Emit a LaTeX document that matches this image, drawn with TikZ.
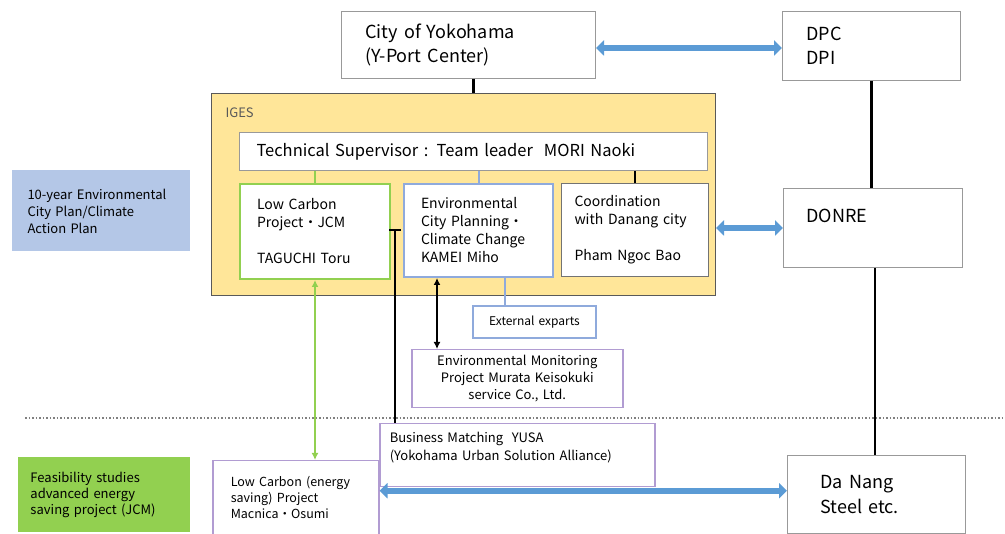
\documentclass[tikz,border=0pt]{standalone}
\usepackage{fontspec}
\setmainfont{Noto Sans CJK JP}
\usetikzlibrary{arrows.meta}
\definecolor{igesyellow}{RGB}{255,230,153}
\definecolor{planblue}{RGB}{180,199,231}
\definecolor{jcmgreen}{RGB}{146,208,80}
\definecolor{linkblue}{RGB}{91,155,213}
\definecolor{envblue}{RGB}{143,170,220}
\definecolor{bizpurple}{RGB}{177,156,210}
\begin{document}
\begin{tikzpicture}[x=1pt,y=-1pt,
	box/.style={draw=gray!80,line width=1pt,anchor=north west,align=left,inner ysep=0pt},
	fsize/.style 2 args={font=\fontsize{#1}{#2}\selectfont},
	link/.style={line width=6pt,draw=linkblue,{Triangle[length=8pt,width=15pt]}-{Triangle[length=8pt,width=15pt]}}]
	\useasboundingbox (0,0) rectangle (1005,534);
	\node [box,fsize={18}{24},inner xsep=24pt,text width=206pt,minimum height=67pt] (1) at (341,11) {City of Yokohama\\(Y-Port Center)};
	\node [box,fsize={18}{24},inner xsep=24pt,text width=130pt,minimum height=69pt] (2) at (782,11) {DPC\\DPI};
	\node [box,draw=gray!70!black,fill=igesyellow,minimum width=504pt,minimum height=202pt,inner sep=0pt] (3) at (211,93) {};
	\node [anchor=west,fsize={13}{16},text=gray!70!black] (4) at (222,113) {IGES};
	\node [box,fill=white,fsize={16.5}{20},inner xsep=17pt,text width=434pt,minimum height=38pt] (5) at (239,132) {Technical Supervisor : Team leader\ \ MORI Naoki};
	\node [box,fill=white,draw=jcmgreen,line width=2pt,fsize={14}{18},inner xsep=17pt,text width=116pt,minimum height=95pt] (6) at (239,183) {Low Carbon\\Project・JCM\\~\\TAGUCHI Toru};
	\node [box,fill=white,draw=envblue,line width=2pt,fsize={14}{18},inner xsep=17pt,text width=115pt,minimum height=93pt] (7) at (403,183) {Environmental\\City Planning・\\Climate Change\\KAMEI Miho};
	\node [box,fill=white,draw=gray!90!black,fsize={14}{18},inner xsep=13pt,text width=121pt,minimum height=93pt] (8) at (561,183) {Coordination\\with Danang city\\~\\Pham Ngoc Bao};
	\node [box,fsize={18}{24},inner xsep=23pt,text width=133pt,minimum height=79pt] (9) at (783,188) {DONRE\\~};
	\node [box,draw=envblue,line width=2pt,align=center,fsize={12}{15},text width=105pt,inner xsep=9pt,minimum height=32pt] (10) at (472,305) {External exparts};
	\node [box,draw=bizpurple,line width=1.5pt,align=center,fsize={13}{17},text width=195pt,inner xsep=8pt,minimum height=58pt] (11) at (411,349) {Environmental Monitoring\\Project Murata Keisokuki\\service Co., Ltd.};
	\node [box,draw=bizpurple,line width=1.5pt,fsize={13}{18},inner xsep=10pt,text width=255pt,minimum height=63pt] (12) at (379,423) {Business Matching\ \ YUSA\\(Yokohama Urban Solution Alliance)\\~};
	\node [box,draw=bizpurple,line width=1.5pt,fsize={12.5}{16},inner xsep=18pt,text width=130pt,minimum height=74pt] (13) at (212,460) {Low Carbon (energy\\saving) Project\\Macnica・Osumi};
	\node [box,fsize={18}{25},inner xsep=33pt,text width=112pt,minimum height=78pt] (14) at (787,455) {Da Nang\\Steel etc.};
	\node [box,draw=none,fill=planblue,fsize={13}{17},inner xsep=16pt,text width=146pt,minimum height=81pt] (15) at (11,170) {10-year Environmental\\City Plan/Climate\\Action Plan};
	\node [box,draw=none,fill=jcmgreen,fsize={13}{16},inner xsep=13pt,text width=146pt,minimum height=75pt] (16) at (17,457) {Feasibility studies\\advanced energy\\saving project (JCM)};
	\coordinate (t) at (395,229);
	\draw [gray,dotted,line width=1.5pt] (25,418) -- (1005,418);
	\draw [line width=2.5pt] ([xshift=5pt]1.south) -- ([xshift=5pt]1.south |- 3.north);
	\draw [link] ([yshift=-3pt]1.east) -- ([yshift=-3pt]1.east -| 2.west);
	\draw [line width=2.5pt] (2.south) -- (2.south |- 9.north);
	\draw [line width=2.5pt] ([xshift=2pt]9.south) -- ([xshift=2pt]9.south |- 14.north);
	\draw [link] (3.east |- 9.west) -- (9.west);
	\draw [jcmgreen,line width=2pt] (6.north) -- (6.north |- 5.south);
	\draw [envblue,line width=2pt] (7.north) -- (7.north |- 5.south);
	\draw [line width=2.5pt] (8.north) -- (8.north |- 5.south);
	\draw [envblue,line width=2pt] ([xshift=-30pt]10.north) -- ([xshift=-30pt]10.north |- 7.south);
	\draw [line width=2.5pt,{Latex[length=7pt,width=7pt]}-{Latex[length=7pt,width=7pt]}] ([xshift=34pt]7.south west) -- ([xshift=34pt]7.south west |- 11.north);
	\draw [line width=2.5pt,{Bar[width=12pt]}-] (t) -- (t |- 12.north);
	\draw [jcmgreen,line width=2.5pt,{Latex[length=7pt,width=7pt]}-{Latex[length=7pt,width=7pt]}] (6.south) -- (6.south |- 13.north);
	\draw [link] ([yshift=7pt]13.east) -- ([yshift=7pt]13.east -| 14.west);
\end{tikzpicture}
\end{document}
